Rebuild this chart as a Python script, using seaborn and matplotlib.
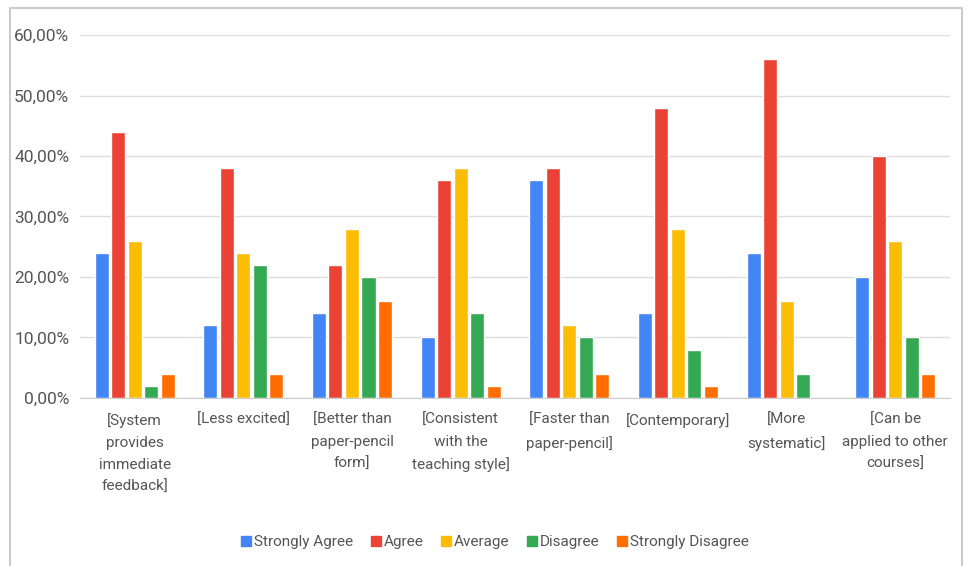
import pandas as pd
import seaborn as sns
import matplotlib.pyplot as plt
from matplotlib.ticker import FuncFormatter
from matplotlib.lines import Line2D

# Survey answers (% of students) per statement
statements = ["[System\nprovides\nimmediate\nfeedback]", "[Less excited]",
              "[Better than\npaper-pencil\nform]", "[Consistent\nwith the\nteaching style]",
              "[Faster than\npaper-pencil]", "[Contemporary]",
              "[More\nsystematic]", "[Can be\napplied to other\ncourses]"]
answers = ["Strongly Agree", "Agree", "Average", "Disagree", "Strongly Disagree"]

strongly_agree = [24, 12, 14, 10, 36, 14, 24, 20]
agree = [44, 38, 22, 36, 38, 48, 56, 40]
average = [26, 24, 28, 38, 12, 28, 16, 26]
disagree = [2, 22, 20, 14, 10, 8, 4, 10]
strongly_disagree = [4, 4, 16, 2, 4, 2, 0, 4]

colors = ["#4285F4", "#EA4335", "#FBBC04", "#34A853", "#FF6D01"]

rows = []
for ans, vals in zip(answers, [strongly_agree, agree, average, disagree, strongly_disagree]):
    for st, v in zip(statements, vals):
        rows.append({"Statement": st, "Answer": ans, "Percent": v})
df = pd.DataFrame(rows)

sns.set_style("white")
plt.rcParams['font.family'] = ['Roboto', 'DejaVu Sans']
grey = "#555555"

fig = plt.figure(figsize=(9.68, 5.66), dpi=100)
ax = fig.add_axes([0.083, 0.297, 0.898, 0.641])

sns.barplot(data=df, x="Statement", y="Percent", hue="Answer", palette=colors,
            order=statements, hue_order=answers, width=0.76, gap=0.15, ax=ax,
            saturation=1, legend=False)

ax.set_ylim(0, 60)
ax.set_yticks(range(0, 61, 10))
ax.yaxis.set_major_formatter(FuncFormatter(lambda v, p: f"{v:.2f}%".replace(".", ",")))
ax.grid(axis="y", color="#dddddd", linewidth=1)
ax.set_axisbelow(True)
for s in ["top", "right", "left"]:
    ax.spines[s].set_visible(False)
ax.spines["bottom"].set_color("#cccccc")
ax.tick_params(axis="both", length=0, colors=grey)
ax.tick_params(axis="x", pad=11, labelsize=11)
ax.tick_params(axis="y", pad=8, labelsize=12.5)
for lbl in ax.get_xticklabels():
    lbl.set_linespacing(1.7)
ax.set_xlabel("")
ax.set_ylabel("")

handles = [Line2D([0], [0], marker="s", linestyle="", markersize=7,
                  markerfacecolor=c, markeredgecolor=c) for c in colors]
fig.legend(handles, answers, loc="center", bbox_to_anchor=(0.51, 0.042), ncol=5,
           frameon=False, fontsize=11, handletextpad=0.0, columnspacing=1.0,
           handlelength=1.0, labelcolor=grey)

# frame around the chart
fig.add_artist(Line2D([0.0103, 0.0103, 0.9938, 0.9938], [0.0, 0.986, 0.986, 0.0],
                      transform=fig.transFigure, color="#cccccc", linewidth=1.5))

fig.savefig("out.png", dpi=100)
